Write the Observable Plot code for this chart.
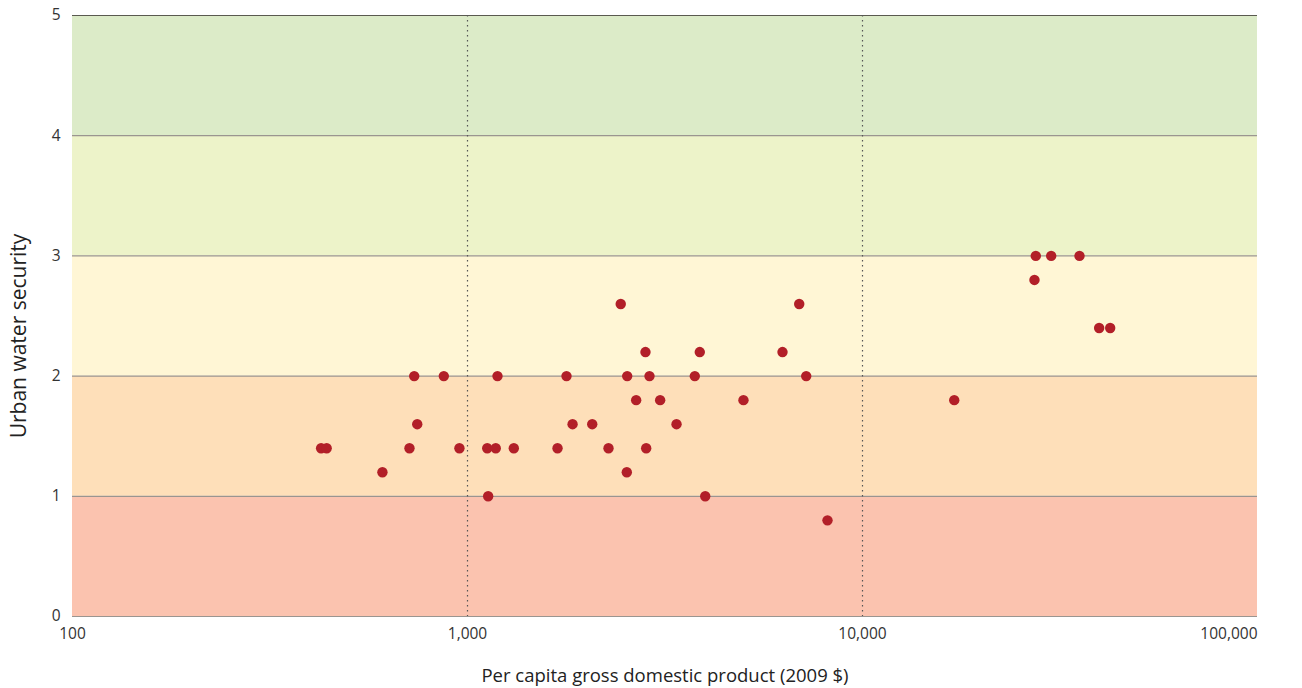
<!DOCTYPE html>
<html>
<head>
<meta charset="utf-8">
<script src="https://cdn.jsdelivr.net/npm/d3@7"></script>
<script src="https://cdn.jsdelivr.net/npm/@observablehq/plot@0.6"></script>
<style>
  html, body { margin: 0; padding: 0; background: #ffffff; }
  #chart { width: 1302px; height: 688px; }
  svg { font-family: "Open Sans", sans-serif; }
</style>
</head>
<body>
<div id="chart"></div>
<script>
// Per capita GDP (2009 $) and urban water security
const gdp = [
  426, 440, 609, 713, 733, 746, 871, 954,
  1122, 1128, 1179, 1191, 1310, 1690, 1781, 1845,
  2069, 2275, 2443, 2537, 2531, 2673, 2822, 2834,
  2889, 3074, 3382, 3762, 3873, 3998, 4996, 6273,
  6915, 7203, 8154, 17070, 27250, 27460, 30040, 35430,
  39730, 42370
];
const security = [
  1.4, 1.4, 1.2, 1.4, 2.0, 1.6, 2.0, 1.4,
  1.4, 1.0, 1.4, 2.0, 1.4, 1.4, 2.0, 1.6,
  1.6, 1.4, 2.6, 2.0, 1.2, 1.8, 2.2, 1.4,
  2.0, 1.8, 1.6, 2.0, 2.2, 1.0, 1.8, 2.2,
  2.6, 2.0, 0.8, 1.8, 2.8, 3.0, 3.0, 3.0,
  2.4, 2.4
];

// Background bands of water security
const bandLow = [0, 1, 2, 3, 4];
const bandHigh = [1, 2, 3, 4, 5];
const bandColors = ["#fbc3af", "#fedfb9", "#fff6d5", "#edf3c9", "#dcebc8"];

// Axis ticks
const xTicks = [100, 1000, 10000];
const xLastTick = [100000];
const yTicks = [0, 1, 2, 3, 4, 5];
const innerGrid = [1, 2, 3, 4];
const verticalGrid = [1000, 10000];

const points = gdp.map((g, i) => ({gdp: g, security: security[i]}));
const bands = bandLow.map((lo, i) => ({lo, hi: bandHigh[i], color: bandColors[i]}));

const chart = Plot.plot({
  width: 1302,
  height: 688,
  marginLeft: 72,
  marginRight: 45,
  marginTop: 15,
  marginBottom: 72,
  style: {fontFamily: "'Open Sans', sans-serif", background: "#ffffff"},
  x: {type: "log", domain: [100, 100000]},
  y: {domain: [0, 5]},
  marks: [
    Plot.rect(bands, {y1: "lo", y2: "hi", fill: "color"}),
    Plot.ruleY(innerGrid, {stroke: "#9a9590", strokeWidth: 1.2}),
    Plot.ruleY([0], {stroke: "#9a9590", strokeWidth: 1.2}),
    Plot.ruleY([5], {stroke: "#5a5a50", strokeWidth: 1.2}),
    Plot.ruleX(verticalGrid, {stroke: "#555555", strokeWidth: 1.2, strokeDasharray: "1.6,3.4"}),
    Plot.dot(points, {x: "gdp", y: "security", r: 5.2, fill: "#b21f28", stroke: "none"}),
    Plot.axisX(xTicks, {
      tickSize: 0, tickPadding: 11, fontSize: 15.5, color: "#333333",
      tickFormat: d3.format(","), label: null
    }),
    Plot.axisX(xLastTick, {
      tickSize: 0, tickPadding: 11, fontSize: 15.5, color: "#333333", textAnchor: "end",
      tickFormat: d3.format(","), label: null
    }),
    Plot.axisY(yTicks, {
      tickSize: 0, tickPadding: 12, fontSize: 15.5, color: "#333333",
      tickFormat: d3.format("d"), label: null
    }),
    Plot.text(["Per capita gross domestic product (2009 $)"], {
      frameAnchor: "bottom", dy: 65, fontSize: 18.5, fill: "#222222", text: d => d
    }),
    Plot.text(["Urban water security"], {
      frameAnchor: "left", textAnchor: "middle", dx: -53, dy: 20, rotate: -90,
      fontSize: 21, fill: "#222222", text: d => d
    })
  ]
});
document.getElementById("chart").appendChild(chart);
</script>
</body>
</html>
